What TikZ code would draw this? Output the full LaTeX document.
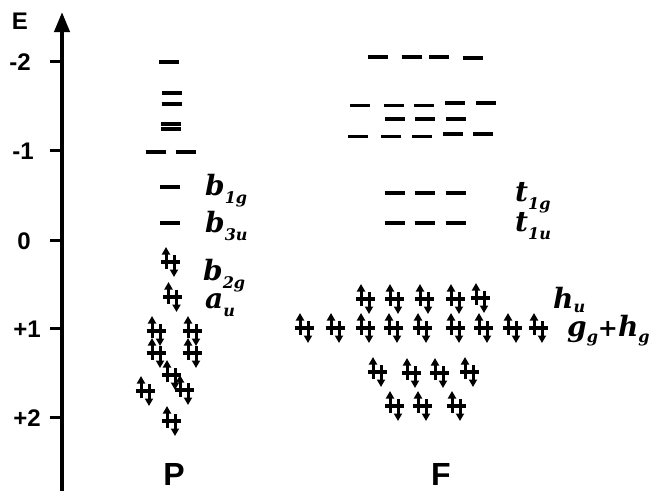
\documentclass[tikz,border=0pt]{standalone}
\usepackage{fontspec}
\setmainfont{Liberation Sans}
\newfontfamily\orbfont{DejaVu Serif}
\usetikzlibrary{arrows.meta}
\newcommand\orb[3][8pt]{{\orbfont\bfseries\itshape #2\raisebox{-#1}{\fontsize{16}{16}\selectfont #3}}}
\begin{document}
\begin{tikzpicture}[
    x=1pt, y=-1pt,
    eje/.style={line width=4pt, -{Triangle[length=20pt,width=15pt]}},
    marca/.style={line width=3pt},
    cab/.style={font=\bfseries\fontsize{24}{24}\selectfont, inner sep=0pt},
    col/.style={font=\bfseries\fontsize{32}{32}\selectfont, inner sep=0pt},
    orbital/.style={anchor=base west, inner sep=0pt, font=\fontsize{28}{28}\selectfont},
    nivel/.pic={\draw[line width=3.5pt] (-10,0) -- (10,0);},
    par/.pic={
      \draw[line width=3.8pt] (-9.5,0) -- (9.5,0);
      \draw[line width=3pt, -{Triangle[length=7.5pt,width=8pt]}] (-4,7) -- (-4,-15);
      \draw[line width=3pt, -{Triangle[length=7.5pt,width=8pt]}] (4,-7) -- (4,15);}
  ]
  \useasboundingbox (0,0) rectangle (650,491);

  % eje de energia
  \coordinate (base) at (62,491);
  \coordinate (tope) at (62,12);
  \draw[eje] (base) -- (tope);
  \node[cab] (ejeE) at (20,21) {E};
  \node[cab] (em2) at (20,62) {-2};
  \node[cab] (em1) at (23,151) {-1};
  \node[cab] (e0) at (24,241) {0};
  \node[cab] (ep1) at (27,329) {+1};
  \node[cab] (ep2) at (27,418) {+2};
  \draw[marca] (50,61) -- (62,61);
  \draw[marca] (50,150) -- (62,150);
  \draw[marca] (50,240) -- (62,240);
  \draw[marca] (50,328) -- (62,328);
  \draw[marca] (50,417) -- (62,417);

  % columna P
  \pic (pv1) at (169,62) {nivel};
  \pic (pv2) at (171.5,93) {nivel};
  \pic (pv3) at (171.5,104) {nivel};
  \pic (pv4) at (171,124) {nivel};
  \pic (pv5) at (171,129) {nivel};
  \pic (pv6) at (155.5,152) {nivel};
  \pic (pv7) at (185.5,152) {nivel};
  \pic (pb1g) at (170,187) {nivel};
  \pic (pb3u) at (170,223) {nivel};
  \pic (pb2g) at (170,262) {par};
  \pic (pau) at (172.5,297) {par};
  \pic (pc1) at (156,331) {par};
  \pic (pc2) at (156,353) {par};
  \pic (pc3) at (192,331) {par};
  \pic (pc4) at (192,353) {par};
  \pic (pc5) at (171,375) {par};
  \pic (pc6) at (184,390) {par};
  \pic (pc7) at (145,391) {par};
  \pic (pc8) at (171,421) {par};

  \node[orbital] (lb1g) at (205,195) {\orb{b}{1g}};
  \node[orbital] (lb3u) at (205,232) {\orb{b}{3u}};
  \node[orbital] (lb2g) at (203,280) {\orb{b}{2g}};
  \node[orbital] (lau) at (205,308) {\orb{a}{u}};

  % columna F
  \pic (fv1) at (378,57) {nivel};
  \pic (fv2) at (411.5,57) {nivel};
  \pic (fv3) at (439,57) {nivel};
  \pic (fv4) at (472.5,58) {nivel};
  \pic (fv5) at (360,105.5) {nivel};
  \pic (fv6) at (394,105.5) {nivel};
  \pic (fv7) at (424,105.5) {nivel};
  \pic (fv8) at (455,103) {nivel};
  \pic (fv9) at (486,103) {nivel};
  \pic (fv10) at (395,119) {nivel};
  \pic (fv11) at (425,119) {nivel};
  \pic (fv12) at (456,119) {nivel};
  \pic (fv13) at (358,136.5) {nivel};
  \pic (fv14) at (391,136.5) {nivel};
  \pic (fv15) at (422,136.5) {nivel};
  \pic (fv16) at (453,134) {nivel};
  \pic (fv17) at (483,134) {nivel};
  \pic (ft1) at (394.5,193) {nivel};
  \pic (ft2) at (424.5,193) {nivel};
  \pic (ft3) at (455.5,193) {nivel};
  \pic (ft4) at (394.5,223) {nivel};
  \pic (ft5) at (424.5,223) {nivel};
  \pic (ft6) at (455.5,223) {nivel};

  \pic (fh1) at (365,299) {par};
  \pic (fh2) at (394,299) {par};
  \pic (fh3) at (424,299) {par};
  \pic (fh4) at (455,299) {par};
  \pic (fh5) at (480,298) {par};
  \pic (fg1) at (304,328) {par};
  \pic (fg2) at (335,328) {par};
  \pic (fg3) at (365,328) {par};
  \pic (fg4) at (393,328) {par};
  \pic (fg5) at (422,328) {par};
  \pic (fg6) at (455,328) {par};
  \pic (fg7) at (483,328) {par};
  \pic (fg8) at (512,328) {par};
  \pic (fg9) at (538,328) {par};
  \pic (fa1) at (377,372) {par};
  \pic (fa2) at (411,373) {par};
  \pic (fa3) at (439,373) {par};
  \pic (fa4) at (469,372) {par};
  \pic (fb1) at (394,406) {par};
  \pic (fb2) at (422,406) {par};
  \pic (fb3) at (456,406) {par};

  \node[orbital] (lt1g) at (515,201) {\orb{t}{1g}};
  \node[orbital] (lt1u) at (515,231) {\orb{t}{1u}};
  \node[orbital] (lhu) at (553,308) {\orb[4pt]{h}{u}};
  \node[orbital] (lgh) at (567,336) {\orb[6pt]{g}{g}{\orbfont\bfseries\fontsize{24}{24}\selectfont+}\orb[6pt]{h}{g}};

  \node[col] (colP) at (174,474) {P};
  \node[col] (colF) at (441,474) {F};
\end{tikzpicture}
\end{document}
